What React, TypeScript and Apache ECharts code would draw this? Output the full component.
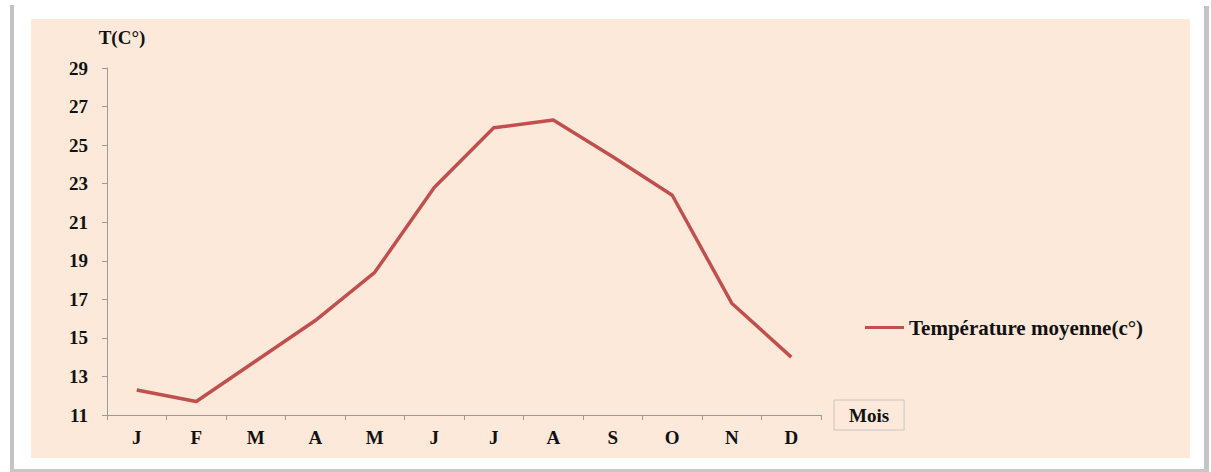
import React, { useEffect, useRef } from "react";
import * as echarts from "echarts";

const months = ["J", "F", "M", "A", "M", "J", "J", "A", "S", "O", "N", "D"];
const temperature = [12.3, 11.7, 13.8, 15.9, 18.4, 22.8, 25.9, 26.3, 24.4, 22.4, 16.8, 14.0];
const seriesName = "Température moyenne(c°)";
const yMin = 11;
const yMax = 29;
const yStep = 2;

const FONT = "'Liberation Serif', 'Times New Roman', serif";
const LINE_COLOR = "#c0504d";
const PEACH = "#fde9da";
const AXIS_GREY = "#9a9a9a";

export default function App() {
  const ref = useRef<HTMLDivElement>(null);

  useEffect(() => {
    if (!ref.current) return;
    const chart = echarts.init(ref.current, undefined, { renderer: "svg" });
    chart.setOption({
      animation: false,
      backgroundColor: "#ffffff",
      graphic: [
        { type: "rect", z: -10, shape: { x: 31, y: 19, width: 1159, height: 439 }, style: { fill: PEACH } },
        { type: "rect", z: -10, shape: { x: 10, y: 5, width: 4, height: 467 }, style: { fill: "#c4c4c4" } },
        { type: "rect", z: -10, shape: { x: 1204, y: 6, width: 5, height: 466 }, style: { fill: "#c4c4c4" } },
        { type: "rect", z: -10, shape: { x: 10, y: 469, width: 1199, height: 3 }, style: { fill: "#c8c8c8" } },
        {
          type: "text",
          z: 10,
          x: 122,
          y: 37,
          style: {
            text: "T(C°)",
            font: `bold 19px ${FONT}`,
            fill: "#111",
            align: "center",
            verticalAlign: "middle",
          },
        },
      ],
      legend: {
        data: [{ name: seriesName, icon: "rect" }],
        left: 860,
        top: 312,
        itemWidth: 39,
        itemHeight: 3,
        textStyle: { fontFamily: FONT, fontWeight: "bold", fontSize: 21, color: "#111" },
      },
      grid: { left: 107, right: 390, top: 68, bottom: 57 },
      xAxis: {
        type: "category",
        data: months,
        boundaryGap: true,
        name: "Mois",
        nameLocation: "end",
        nameGap: 13,
        nameTextStyle: {
          fontFamily: FONT,
          fontWeight: "bold",
          fontSize: 19,
          color: "#111",
          borderColor: "#c6c6c6",
          borderWidth: 1,
          padding: [7, 15, 4, 15],
          verticalAlign: "middle",
        },
        axisLine: { lineStyle: { color: AXIS_GREY, width: 1 } },
        axisTick: { show: true, length: 5, lineStyle: { color: AXIS_GREY } },
        axisLabel: {
          fontFamily: FONT,
          fontWeight: "bold",
          fontSize: 19,
          color: "#111",
          margin: 13,
          interval: 0,
        },
        splitLine: { show: false },
      },
      yAxis: {
        type: "value",
        min: yMin,
        max: yMax,
        interval: yStep,
        axisLine: { show: true, lineStyle: { color: AXIS_GREY, width: 1 } },
        axisTick: { show: true, length: 5, lineStyle: { color: AXIS_GREY } },
        axisLabel: {
          fontFamily: FONT,
          fontWeight: "bold",
          fontSize: 19,
          color: "#111",
          margin: 19,
        },
        splitLine: { show: false },
      },
      series: [
        {
          name: seriesName,
          type: "line",
          data: temperature,
          symbol: "none",
          color: LINE_COLOR,
          lineStyle: { color: LINE_COLOR, width: 3.5 },
        },
      ],
    });
    return () => chart.dispose();
  }, []);

  return (
    <div
      ref={ref}
      style={{ position: "fixed", left: 0, top: 0, width: 1211, height: 472 }}
    />
  );
}
